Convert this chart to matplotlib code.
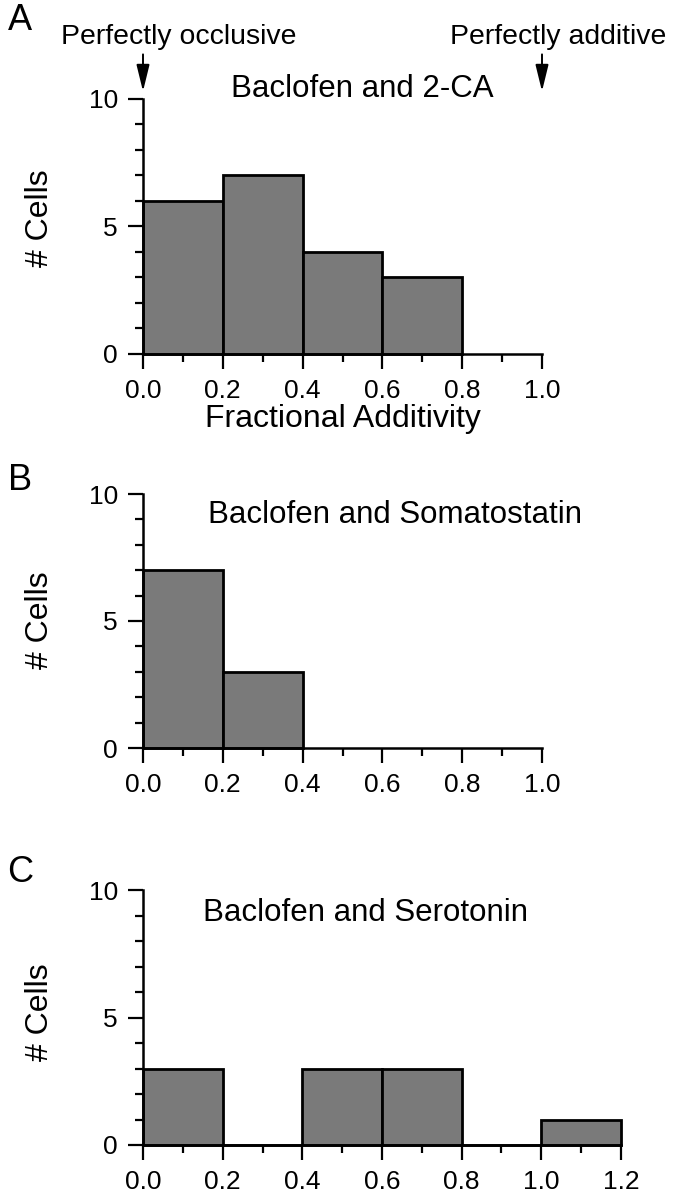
import matplotlib
matplotlib.use("Agg")
import matplotlib.pyplot as plt
from matplotlib.ticker import MultipleLocator, FormatStrFormatter

plt.rcParams['font.family'] = ['Liberation Sans', 'DejaVu Sans']

# Data
bin_width = 0.2
a_left = [0.0, 0.2, 0.4, 0.6]
a_counts = [6, 7, 4, 3]
b_left = [0.0, 0.2]
b_counts = [7, 3]
c_left = [0.0, 0.2, 0.4, 0.6, 0.8, 1.0]
c_counts = [3, 0, 3, 3, 0, 1]

titles = ["Baclofen and 2-CA", "Baclofen and Somatostatin", "Baclofen and Serotonin"]
letters = ["A", "B", "C"]
ylabel = "# Cells"
xlabel = "Fractional Additivity"

W, H = 674, 1200
fig = plt.figure(figsize=(W / 100, H / 100), dpi=100)


def ax_rect(x0, x1, ytop, ybot):
    return [x0 / W, 1 - ybot / H, (x1 - x0) / W, (ybot - ytop) / H]


def fx(x):
    return x / W


def fy(y):
    return 1 - y / H


panels = [
    (ax_rect(143, 542, 99, 354), a_left, a_counts, 1.0),
    (ax_rect(143, 542, 494, 748), b_left, b_counts, 1.0),
    (ax_rect(143, 621, 890, 1145), c_left, c_counts, 1.2),
]

axes = []
for rect, lefts, counts, xmax in panels:
    ax = fig.add_axes(rect)
    ax.bar(lefts, counts, width=bin_width, align='edge', color='#7a7a7a',
           edgecolor='black', linewidth=2.0, clip_on=False, zorder=3)
    ax.set_xlim(0, xmax)
    ax.set_ylim(0, 10)
    for s in ['top', 'right']:
        ax.spines[s].set_visible(False)
    for s in ['left', 'bottom']:
        ax.spines[s].set_linewidth(1.8)
        ax.spines[s].set_zorder(4)
    ax.xaxis.set_major_locator(MultipleLocator(0.2))
    ax.xaxis.set_minor_locator(MultipleLocator(0.1))
    ax.xaxis.set_major_formatter(FormatStrFormatter('%.1f'))
    ax.yaxis.set_major_locator(MultipleLocator(5))
    ax.yaxis.set_minor_locator(MultipleLocator(1))
    ax.tick_params(which='major', direction='out', length=11, width=1.6,
                   labelsize=19, pad=7)
    ax.tick_params(which='minor', direction='out', length=6, width=1.6)
    ax.patch.set_alpha(0)
    axes.append(ax)

axes[0].set_xlabel(xlabel, fontsize=23, labelpad=1)

# Titles
fig.text(fx(362), fy(97), titles[0], fontsize=22.5, ha='center', va='baseline')
fig.text(fx(208), fy(523), titles[1], fontsize=22.5, ha='left', va='baseline')
fig.text(fx(203), fy(921), titles[2], fontsize=22.5, ha='left', va='baseline')

# Y labels
for yc in [218, 620, 1012]:
    fig.text(fx(40), fy(yc), ylabel, fontsize=23, rotation=90,
             ha='center', va='center')

# Panel letters
for letter, yc in zip(letters, [21, 481, 873]):
    fig.text(fx(20), fy(yc), letter, fontsize=26, ha='center', va='center')

# Annotations with arrows
fig.text(fx(179), fy(37), "Perfectly occlusive", fontsize=20.4,
         ha='center', va='center')
fig.text(fx(558), fy(37), "Perfectly additive", fontsize=20.4,
         ha='center', va='center')
arrow_style = dict(arrowstyle='-|>,head_length=0.9,head_width=0.22',
                   color='black', lw=1.4, mutation_scale=18,
                   shrinkA=0, shrinkB=0)
for xv in [0.0, 1.0]:
    axes[0].annotate("", xy=(xv, 10.3), xycoords='data',
                     xytext=(xv, 11.75), textcoords='data',
                     arrowprops=arrow_style, annotation_clip=False)

fig.savefig("out.png", dpi=100)
